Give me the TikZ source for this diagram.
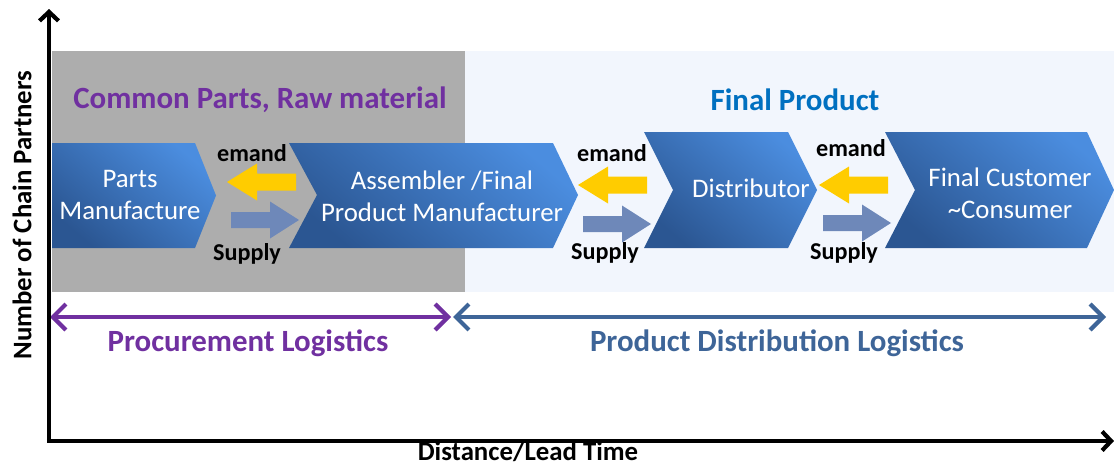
\documentclass[tikz,border=0pt]{standalone}
\usepackage{fontspec}
\setmainfont{Carlito}
\usetikzlibrary{arrows.meta}
\definecolor{graybox}{HTML}{ADADAD}
\definecolor{lightbg}{HTML}{F2F6FD}
\definecolor{chevdark}{HTML}{2B5692}
\definecolor{chevlight}{HTML}{4B8DDF}
\definecolor{demandyellow}{HTML}{FFCC00}
\definecolor{supplyblue}{HTML}{6E88B9}
\definecolor{procpurple}{HTML}{7030A0}
\definecolor{distblue}{HTML}{3E6598}
\definecolor{finalblue}{HTML}{0070C0}
\newcommand\DemArr[2]{\fill[demandyellow] (#1,#2) -- ++(30,-18.5) -- ++(0,10) -- ++(39,0) -- ++(0,17) -- ++(-39,0) -- ++(0,10) -- cycle;}
\newcommand\SupArr[2]{\fill[supplyblue] (#1,#2) -- ++(-29,-18.5) -- ++(0,10.5) -- ++(-39,0) -- ++(0,16) -- ++(39,0) -- ++(0,10.5) -- cycle;}
\begin{document}
\begin{tikzpicture}[x=1pt,y=-1pt,
  chev/.style={top color=chevlight, bottom color=chevdark, shading angle=-40},
  chevtext/.style={text=white, align=center, font=\fontsize{26.8}{32}\selectfont, inner sep=0pt},
  flowlabel/.style={font=\bfseries\fontsize{24.2}{28}\selectfont, inner sep=0pt},
  headlabel/.style={font=\bfseries\fontsize{30.9}{36}\selectfont, inner sep=0pt},
  axislabel/.style={font=\bfseries\fontsize{26.8}{30}\selectfont, inner sep=0pt},
  spanarrow/.style={line width=4.2pt, {Straight Barb[length=13pt,width=26pt]}-{Straight Barb[length=13pt,width=26pt]}},
  axisarrow/.style={line width=4.2pt, -{Straight Barb[length=9pt,width=19pt]}}
]
\useasboundingbox (0,0) rectangle (1114,466);
% backgrounds
\fill[graybox] (52,51) rectangle (465,292);
\fill[lightbg] (465,51) rectangle (1114,292);
% chevrons
\shade[chev] (52,143) -- (195,143) -- (216,195.5) -- (195,248) -- (52,248) -- cycle;
\shade[chev] (289,143) -- (553,143) -- (578,195) -- (553,248) -- (289,248) -- (317,195) -- cycle;
\shade[chev] (644,132) -- (788,132) -- (817,190) -- (788,248) -- (644,248) -- (673,190) -- cycle;
\shade[chev] (885,132) -- (1087,132) -- (1114,190) -- (1087,248) -- (885,248) -- (915,190) -- cycle;
\node[chevtext] (parts) at (130,195) {Parts\\Manufacture};
\node[chevtext] (assembler) at (442,196) {Assembler /Final\\Product Manufacturer};
\node[chevtext] (distributor) at (751,188) {Distributor};
\node[chevtext] (customer) at (1010,193) {Final Customer\\\textasciitilde Consumer};
% flow arrows
\DemArr{227}{182}
\DemArr{578}{185}
\DemArr{819}{185}
\SupArr{299}{220}
\SupArr{651}{224}
\SupArr{891}{223}
\node[flowlabel] (em1) at (252,153) {emand};
\node[flowlabel] (em2) at (612,153) {emand};
\node[flowlabel] (em3) at (851,148) {emand};
\node[flowlabel] (su1) at (247,254) {Supply};
\node[flowlabel] (su2) at (605,253) {Supply};
\node[flowlabel] (su3) at (844,253) {Supply};
% headings
\node[headlabel, text=procpurple] (common) at (260,100) {Common Parts, Raw material};
\node[headlabel, text=finalblue] (final) at (795,100) {Final Product};
% span arrows
\coordinate (pl) at (50,317);
\coordinate (pr) at (451,317);
\coordinate (dl) at (453,317);
\coordinate (dr) at (1106,317);
\draw[spanarrow, procpurple] (pl) -- (pr);
\draw[spanarrow, distblue] (dl) -- (dr);
\node[headlabel, text=procpurple] (proc) at (248,343) {Procurement Logistics};
\node[headlabel, text=distblue] (dist) at (777,343) {Product Distribution Logistics};
% axes
\coordinate (o) at (49,441);
\coordinate (ytop) at (49,9);
\coordinate (xend) at (1114,441);
\draw[axisarrow] (o) -- (ytop);
\draw[axisarrow] ([xshift=-2.1pt]o) -- (xend);
\node[axislabel] (xlab) at (528,452) {Distance/Lead Time};
\node[axislabel, rotate=90] (ylab) at (22,215) {Number of Chain Partners};
\end{tikzpicture}
\end{document}
